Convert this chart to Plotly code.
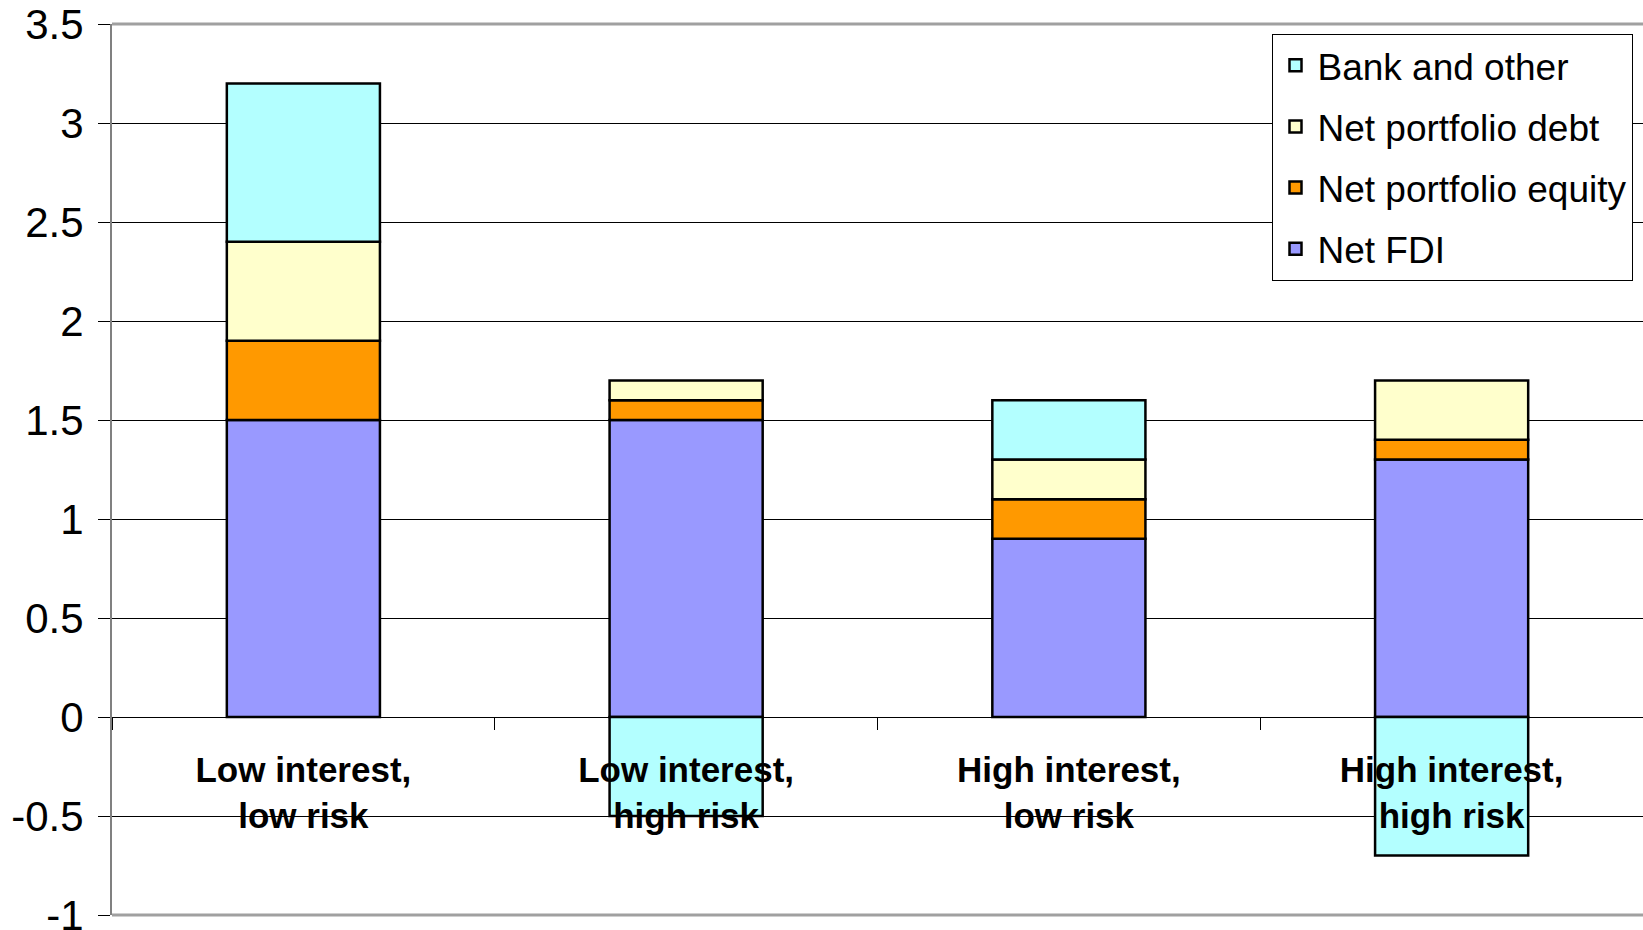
import plotly.graph_objects as go

# Scenario categories
categories = [
    "Low interest,<br>low risk",
    "Low interest,<br>high risk",
    "High interest,<br>low risk",
    "High interest,<br>high risk",
]

# Components of net capital flows per scenario
net_fdi = [1.5, 1.5, 0.9, 1.3]
net_portfolio_equity = [0.4, 0.1, 0.2, 0.1]
net_portfolio_debt = [0.5, 0.1, 0.2, 0.3]
bank_and_other = [0.8, -0.5, 0.3, -0.7]

y_ticks = [-1, -0.5, 0, 0.5, 1, 1.5, 2, 2.5, 3, 3.5]
y_tick_text = ["-1", "-0.5", "0", "0.5", "1", "1.5", "2", "2.5", "3", "3.5"]

# (name, values, fill colour, legend rank)
series = [
    ("Net FDI", net_fdi, "#9999FF", 4),
    ("Net portfolio equity", net_portfolio_equity, "#FF9900", 3),
    ("Net portfolio debt", net_portfolio_debt, "#FFFFCC", 2),
    ("Bank and other", bank_and_other, "#B3FFFF", 1),
]

FONT = "Liberation Sans, Arial, sans-serif"

fig = go.Figure()
for name, vals, color, rank in series:
    fig.add_trace(go.Bar(
        x=categories,
        y=vals,
        name=name,
        legendgroup=name,
        legendrank=rank,
        width=0.40,
        marker=dict(color=color, line=dict(color="black", width=2.5)),
    ))

fig.update_layout(
    width=1643,
    height=930,
    barmode="relative",
    plot_bgcolor="white",
    paper_bgcolor="white",
    margin=dict(l=112, r=0, t=24, b=15, autoexpand=False),
    font=dict(family=FONT, color="black"),
    showlegend=True,
    legend=dict(
        x=0.758,
        y=0.989,
        xanchor="left",
        yanchor="top",
        bgcolor="white",
        bordercolor="black",
        borderwidth=1,
        font=dict(size=37, family=FONT, color="black"),
        traceorder="grouped",
        tracegroupgap=10,
        itemwidth=34,
    ),
    xaxis=dict(
        range=[-0.5, 3.5],
        anchor="free",
        position=1 / 4.5,
        automargin=False,
        showgrid=False,
        showline=True,
        linecolor="black",
        linewidth=1,
        ticks="outside",
        tickson="boundaries",
        ticklen=12,
        tickcolor="black",
        tickwidth=1,
        tickfont=dict(size=35, family=FONT, color="black", weight="bold"),
        ticklabelstandoff=22,
        fixedrange=True,
    ),
    yaxis=dict(
        range=[-1, 3.5],
        domain=[0, 1],
        automargin=False,
        tickvals=y_ticks,
        ticktext=y_tick_text,
        showgrid=True,
        gridcolor="black",
        gridwidth=1,
        zeroline=True,
        zerolinecolor="black",
        zerolinewidth=1,
        showline=True,
        linecolor="#808080",
        linewidth=2,
        ticks="outside",
        ticklen=12,
        tickcolor="black",
        tickwidth=1,
        tickfont=dict(size=42, family=FONT, color="black"),
        ticklabelstandoff=6,
        ticklabeloverflow="allow",
        fixedrange=True,
    ),
    shapes=[
        dict(type="line", xref="paper", yref="paper", x0=0, x1=1, y0=1, y1=1,
             line=dict(color="#A0A0A0", width=3), layer="above"),
        dict(type="line", xref="paper", yref="paper", x0=0, x1=1, y0=0, y1=0,
             line=dict(color="#A0A0A0", width=3), layer="above"),
    ],
)

fig.write_html("out.html")
